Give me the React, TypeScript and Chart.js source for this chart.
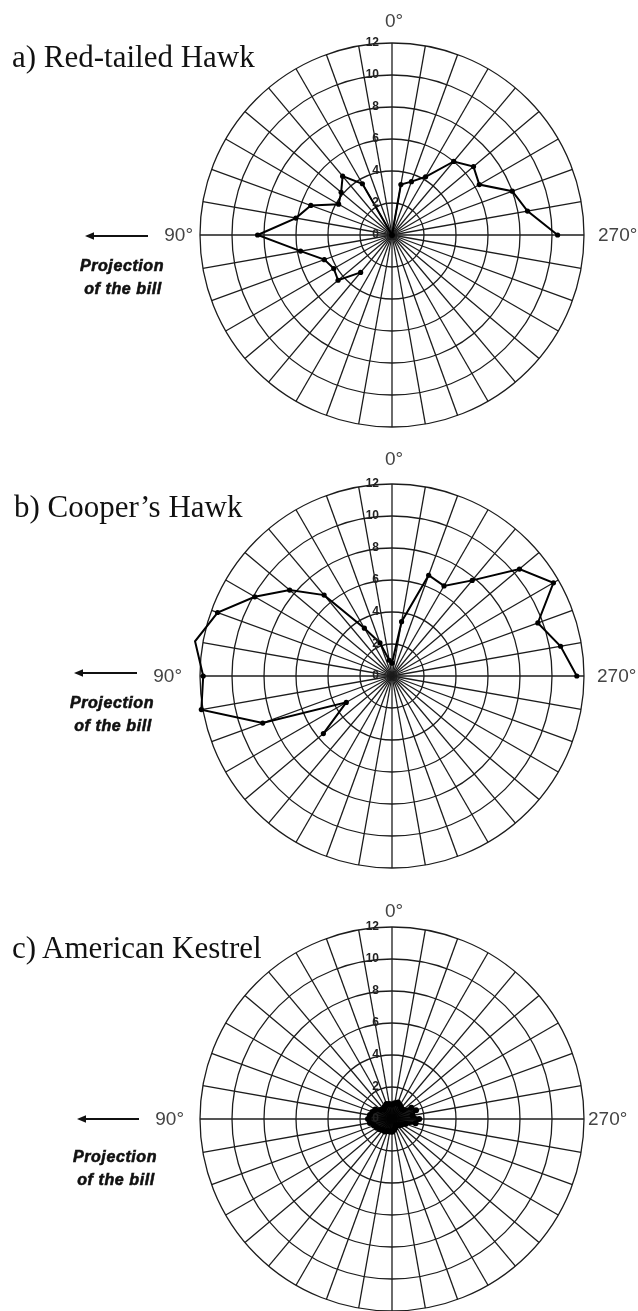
import React, { useEffect, useRef } from "react";
import { Chart, registerables } from "chart.js";

Chart.register(...registerables);

// Spoke angles in the order Chart.js draws them (clockwise from the top).
// The figure measures angles counter-clockwise: 0° top, 90° left, 270° right.
const spokeAngles = [
  0, 350, 340, 330, 320, 310, 300, 290, 280, 270, 260, 250, 240, 230, 220, 210, 200, 190,
  180, 170, 160, 150, 140, 130, 120, 110, 100, 90, 80, 70, 60, 50, 40, 30, 20, 10,
];

const radialTicks = [0, 2, 4, 6, 8, 10, 12];

// a) Red-tailed Hawk
const redTailedHawk = [
  0, 3.2, 3.55, 4.2, 6.0, 6.65, 6.3, 8.0, 8.6, 10.35, null, null, null, null, null, null, null, null,
  null, null, null, null, 3.05, 4.4, 4.2, 4.5, 5.8, 8.4, 6.1, 5.4, 3.85, 4.15, 4.8, 3.7, 0, 0,
];

// b) Cooper's Hawk
const coopersHawk = [
  0.8, 3.45, 6.7, 6.5, 7.8, 10.4, 11.65, 9.7, 10.7, 11.55, null, null, null, null, null, null, null, null,
  null, null, null, null, null, 5.6, 3.3, 8.6, 12.1, 11.8, 12.5, 11.6, 9.9, 8.35, 6.6, 3.45, 2.2, 1.0,
];

// c) American Kestrel
const americanKestrel = [
  0.9, 1.0, 1.1, 1.0, 0.9, 0.9, 1.4, 1.6, 1.3, 1.7, 1.5, 0.9, 0.7, 0.6, 0.5, 0.5, 0.6, 0.7,
  0.8, 0.8, 0.8, 0.9, 0.9, 1.0, 1.1, 1.2, 1.4, 1.5, 1.4, 1.3, 1.2, 0.9, 0.8, 0.9, 1.0, 0.95,
];

const titles = ["a) Red-tailed Hawk", "b) Cooper\u2019s Hawk", "c) American Kestrel"];

const R = 192;
const PAD = 20;
const CX = 392;

const tickLabelPlugin = {
  id: "tickLabelsLeft",
  afterDatasetsDraw(chart: any) {
    const s = chart.scales.r;
    const ctx = chart.ctx;
    ctx.save();
    ctx.font = "bold 12px 'Liberation Sans', Arial, sans-serif";
    ctx.fillStyle = "#222";
    ctx.textAlign = "right";
    ctx.textBaseline = "middle";
    s.ticks.forEach((t: any) => {
      const d = s.getDistanceFromCenterForValue(t.value);
      ctx.fillText(String(t.value), s.xCenter - 13, s.yCenter - d);
    });
    ctx.restore();
  },
};

function RadarPanel({ values, cy, filled }: { values: (number | null)[]; cy: number; filled: boolean }) {
  const ref = useRef<HTMLCanvasElement | null>(null);
  useEffect(() => {
    if (!ref.current) return;
    const chart = new Chart(ref.current, {
      type: "radar",
      data: {
        labels: spokeAngles.map((a) => `${a}°`),
        datasets: [
          {
            data: values as any,
            borderColor: "#000",
            borderWidth: filled ? 2.5 : 2,
            pointRadius: filled ? 3 : 2.6,
            pointBackgroundColor: "#000",
            pointBorderColor: "#000",
            pointBorderWidth: 0,
            fill: filled,
            backgroundColor: "rgba(0,0,0,0.9)",
            spanGaps: false,
            clip: false as any,
            tension: 0,
          } as any,
        ],
      },
      options: {
        responsive: false,
        maintainAspectRatio: false,
        animation: false,
        layout: { padding: PAD },
        plugins: { legend: { display: false }, tooltip: { enabled: false } },
        scales: {
          r: {
            min: radialTicks[0],
            max: radialTicks[radialTicks.length - 1],
            ticks: { stepSize: 2, display: false },
            grid: { circular: true, color: "#1c1c1c", lineWidth: 1.3 },
            angleLines: { display: true, color: "#1c1c1c", lineWidth: 1.3 },
            pointLabels: { display: false },
          },
        },
      } as any,
      plugins: [tickLabelPlugin],
    });
    return () => chart.destroy();
  }, [values, filled]);
  const size = 2 * (R + PAD);
  return (
    <canvas
      ref={ref}
      width={size}
      height={size}
      style={{
        position: "absolute",
        left: CX - R - PAD,
        top: cy - R - PAD,
        width: size,
        height: size,
        display: "block",
      }}
    />
  );
}

const panels = [
  { values: redTailedHawk, filled: false, cy: 235, titleX: 12, titleY: 67, zeroY: 26.7, y90x: 193, arrow: [85, 148, 236], projX: 122, projY: 271, y270x: 598 },
  { values: coopersHawk, filled: false, cy: 676, titleX: 14, titleY: 517, zeroY: 465, y90x: 182, arrow: [74, 137, 673], projX: 112, projY: 708, y270x: 597 },
  { values: americanKestrel, filled: true, cy: 1119, titleX: 12, titleY: 958, zeroY: 916.7, y90x: 184, arrow: [77, 139, 1119], projX: 115, projY: 1162, y270x: 588 },
];

const sans = "'Liberation Sans', Arial, sans-serif";

export default function App() {
  return (
    <div
      style={{
        position: "absolute",
        left: 0,
        top: 0,
        width: 638,
        height: 1311,
        overflow: "hidden",
        background: "#fff",
      }}
    >
      {panels.map((p, i) => (
        <RadarPanel key={i} values={p.values} cy={p.cy} filled={p.filled} />
      ))}
      <svg
        width={638}
        height={1311}
        style={{ position: "absolute", left: 0, top: 0, pointerEvents: "none" }}
      >
        {panels.map((p, i) => (
          <g key={i}>
            <text
              x={p.titleX}
              y={p.titleY}
              fontFamily="'Liberation Serif', 'Times New Roman', serif"
              fontSize={31}
              fill="#111"
            >
              {titles[i]}
            </text>
            <text x={394} y={p.zeroY} textAnchor="middle" fontFamily={sans} fontSize={19} fill="#444">
              0°
            </text>
            <text x={p.y90x} y={p.cy + 6} textAnchor="end" fontFamily={sans} fontSize={19} fill="#444">
              90°
            </text>
            <text x={p.y270x} y={p.cy + 6} fontFamily={sans} fontSize={19} fill="#444">
              270°
            </text>
            <line
              x1={p.arrow[0] + 6}
              y1={p.arrow[2]}
              x2={p.arrow[1]}
              y2={p.arrow[2]}
              stroke="#111"
              strokeWidth={1.8}
            />
            <polygon
              points={`${p.arrow[0]},${p.arrow[2]} ${p.arrow[0] + 9},${p.arrow[2] - 3.8} ${p.arrow[0] + 9},${p.arrow[2] + 3.8}`}
              fill="#111"
            />
            <text
              x={p.projX}
              y={p.projY}
              textAnchor="middle"
              fontFamily={sans}
              fontSize={16}
              fontWeight="bold"
              fontStyle="italic"
              letterSpacing={0.6}
              fill="#111"
              stroke="#111"
              strokeWidth={0.6}
            >
              Projection
            </text>
            <text
              x={p.projX + 1}
              y={p.projY + 22.5}
              textAnchor="middle"
              fontFamily={sans}
              fontSize={16}
              fontWeight="bold"
              fontStyle="italic"
              letterSpacing={0.6}
              fill="#111"
              stroke="#111"
              strokeWidth={0.6}
            >
              of the bill
            </text>
          </g>
        ))}
      </svg>
    </div>
  );
}
